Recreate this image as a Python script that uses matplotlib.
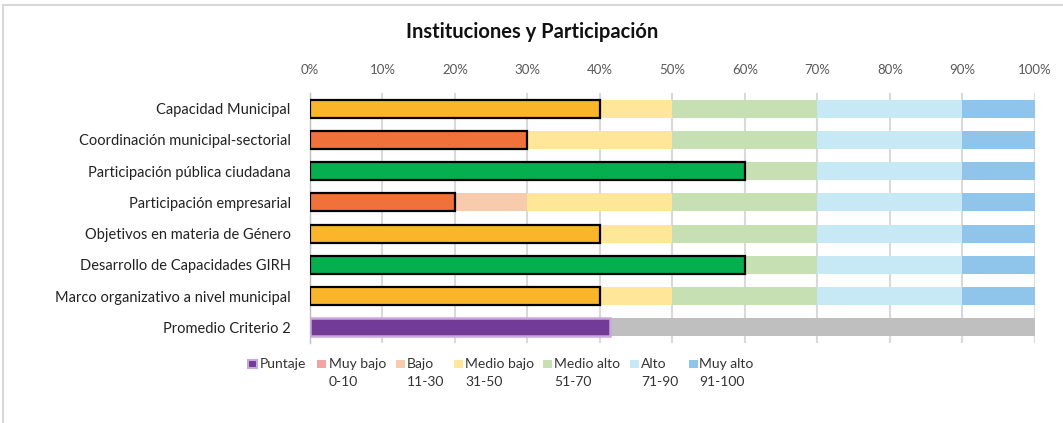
import numpy as np
import matplotlib.pyplot as plt
from matplotlib.patches import Rectangle
from matplotlib.lines import Line2D

plt.rcParams['font.family'] = ['Lato', 'DejaVu Sans']

# datos
categorias = ['Capacidad Municipal', 'Coordinación municipal-sectorial',
              'Participación pública ciudadana', 'Participación empresarial',
              'Objetivos en materia de Género', 'Desarrollo de Capacidades GIRH',
              'Marco organizativo a nivel municipal']
puntajes = [40, 30, 60, 20, 40, 60, 40]
promedio_label = 'Promedio Criterio 2'
promedio = np.mean(puntajes)

niveles = ['Muy bajo', 'Bajo', 'Medio bajo', 'Medio alto', 'Alto', 'Muy alto']
rangos = ['0-10', '11-30', '31-50', '51-70', '71-90', '91-100']
limites = [0, 10, 30, 50, 70, 90, 100]
colores_nivel = ['#F4A3A3', '#F8CBAD', '#FFE699', '#C6E0B4', '#C7E9F5', '#8FC4EB']
# color del puntaje segun nivel
colores_puntaje = ['#F07139', '#F07139', '#FBB52B', '#05AF4F', '#05AF4F', '#05AF4F']

fig = plt.figure(figsize=(10.63, 4.23), dpi=100)
ax = fig.add_axes([0.2916, 0.189, 0.682, 0.591])

n = len(categorias)
ys = np.arange(n + 1)[::-1]  # fila 0 arriba
h = 0.58

for i, (cat, p) in enumerate(zip(categorias, puntajes)):
    y = ys[i]
    for k in range(len(niveles)):
        a, b = limites[k], limites[k + 1]
        if b <= p:
            continue
        a = max(a, p)
        ax.barh(y, (b - a) / 100, left=a / 100, height=h, color=colores_nivel[k], zorder=2)
    k = np.searchsorted(limites, p, side='left') - 1
    k = max(k, 0)
    ax.barh(y, p / 100, left=0, height=h, color=colores_puntaje[k],
            edgecolor='black', linewidth=1.6, zorder=3)

# fila promedio
y = ys[n]
ax.barh(y, 1.0, height=h, color='#BFBFBF', zorder=2)
ax.barh(y, promedio / 100, height=h, color='#713B97', edgecolor='#C9A8DA',
        linewidth=1.8, zorder=3)

ax.set_xlim(0, 1)
ax.set_ylim(-0.5, n + 0.5)
ax.set_yticks(ys)
ax.set_yticklabels(categorias + [promedio_label], fontsize=10.5, color='#222222')
ax.set_xticks(np.arange(0, 1.01, 0.1))
ax.set_xticklabels(['%d%%' % v for v in range(0, 101, 10)], fontsize=9.5, color='#595959')
ax.xaxis.tick_top()
ax.tick_params(axis='x', length=0, pad=12)
ax.tick_params(axis='y', length=0, pad=14)
ax.grid(axis='x', color='#D9D9D9', linewidth=1.5, zorder=0)
ax.set_axisbelow(True)
for s in ['top', 'right', 'bottom']:
    ax.spines[s].set_visible(False)
ax.spines['left'].set_color('#BFBFBF')
ax.spines['left'].set_linewidth(1.0)

fig.text(0.501, 0.924, 'Instituciones y Participación', ha='center', va='center',
         fontsize=14.5, fontweight='bold', color='#111111')

# leyenda manual
W, H = 1063.0, 423.0
sq = 8.5
y1 = 364
y2 = 382
fig.patches.append(Rectangle((248 / W, 1 - (y1 + sq / 2) / H), sq / W, sq / H,
                             transform=fig.transFigure, facecolor='#713B97',
                             edgecolor='#C9A8DA', linewidth=1.5))
fig.text(260 / W, 1 - y1 / H, 'Puntaje', fontsize=10, color='#333333', va='center')
sq_x = [317, 396, 454, 543, 630, 689]
tx_x = [329, 407, 465, 554, 641, 699]
for k in range(len(niveles)):
    fig.patches.append(Rectangle((sq_x[k] / W, 1 - (y1 + sq / 2) / H), sq / W, sq / H,
                                 transform=fig.transFigure, facecolor=colores_nivel[k],
                                 edgecolor='none'))
    fig.text(tx_x[k] / W, 1 - y1 / H, niveles[k], fontsize=10, color='#333333', va='center')
    fig.text(tx_x[k] / W, 1 - y2 / H, rangos[k], fontsize=10, color='#333333', va='center')

# borde del grafico
fig.add_artist(Line2D([3 / W, 3 / W], [0, 1 - 5 / H], transform=fig.transFigure,
                      color='#D9D9D9', linewidth=1.5))
fig.add_artist(Line2D([3 / W, 1], [1 - 5 / H, 1 - 5 / H], transform=fig.transFigure,
                      color='#D9D9D9', linewidth=1.5))

fig.savefig('out.png', dpi=100, facecolor='white')
